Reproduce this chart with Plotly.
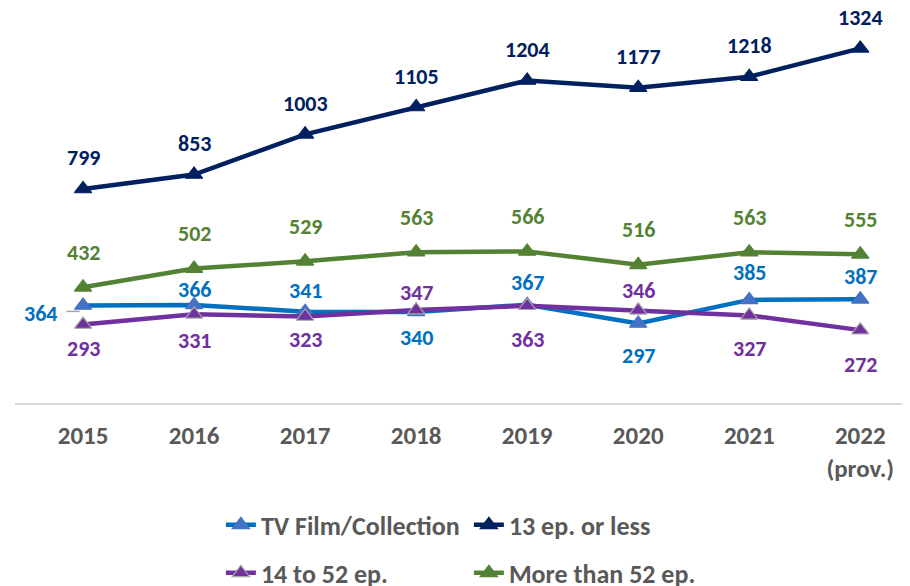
import plotly.graph_objects as go

years = ["2015", "2016", "2017", "2018", "2019", "2020", "2021", "2022"]
tick_text = ["2015", "2016", "2017", "2018", "2019", "2020", "2021", "2022<br>(prov.)"]
tv_film = [364, 366, 341, 340, 367, 297, 385, 387]
ep13 = [799, 853, 1003, 1105, 1204, 1177, 1218, 1324]
ep14_52 = [293, 331, 323, 347, 363, 346, 327, 272]
ep52plus = [432, 502, 529, 563, 566, 516, 563, 555]

FONT = "Carlito, Calibri, Lato, sans-serif"
GREY = "#595959"

series = [
    dict(name="TV Film/Collection", y=tv_film, line="#0070C0", marker="#4472C4", mline="#4472C4", legend="legend",
         yshift=[-8, 15, 21, -26, 22, -32, 27, 23], xshift=[-43, 0, 0, 0, 0, 0, 0, 0]),
    dict(name="13 ep. or less", y=ep13, line="#002060", marker="#002060", mline="#002060", legend="legend",
         yshift=[31] * 8, xshift=[0] * 8),
    dict(name="14 to 52 ep.", y=ep14_52, line="#7030A0", marker="#7030A0", mline="#A5A5A5", legend="legend2",
         yshift=[-24, -26, -23, 18, -34, 20, -33, -34], xshift=[0] * 8),
    dict(name="More than 52 ep.", y=ep52plus, line="#548235", marker="#548235", mline="#548235", legend="legend2",
         yshift=[35] * 8, xshift=[0] * 8),
]

idx = list(range(len(years)))

fig = go.Figure()
annotations = []
for s in series:
    fig.add_trace(go.Scatter(
        x=idx, y=s["y"], name=s["name"], mode="lines+markers", legend=s["legend"],
        line=dict(color=s["line"], width=4.5),
        marker=dict(symbol="triangle-up", size=15, color=s["marker"], line=dict(color=s["mline"], width=1.2)),
        cliponaxis=False,
    ))
    for i, v in enumerate(s["y"]):
        annotations.append(dict(
            x=i, y=v, text=str(v), showarrow=False, xref="x", yref="y",
            yshift=s["yshift"][i], xshift=s["xshift"][i],
            font=dict(family=FONT, size=22, color=s["line"], weight="bold"),
        ))

# leader line for the first TV Film label
fig.add_shape(type="line", xref="x", yref="y", x0=-0.15, x1=-0.03, y0=tv_film[0] - 22, y1=tv_film[0] - 22,
              line=dict(color="#A5A5A5", width=1.5))

legend_font = dict(family=FONT, size=26, color=GREY, weight="bold")

fig.update_layout(
    width=910, height=586,
    margin=dict(l=7, r=0, t=20, b=191, autoexpand=False),
    paper_bgcolor="white", plot_bgcolor="white",
    font=dict(family=FONT, color=GREY),
    annotations=annotations,
    xaxis=dict(
        range=[-0.613, 7.52], tickvals=idx, ticktext=tick_text, automargin=False,
        showgrid=False, showline=True, linecolor="#D9D9D9", linewidth=2, ticks="",
        tickfont=dict(family=FONT, size=25, color=GREY, weight="bold"),
        ticklabelstandoff=9, zeroline=False,
    ),
    yaxis=dict(range=[0, 1400], visible=False, showgrid=False, zeroline=False, automargin=False),
    legend=dict(
        orientation="h", x=0.228, xanchor="left", y=-0.325, yanchor="middle",
        entrywidth=203, entrywidthmode="pixels", itemwidth=30,
        font=legend_font, bgcolor="rgba(0,0,0,0)",
    ),
    legend2=dict(
        orientation="h", x=0.228, xanchor="left", y=-0.453, yanchor="middle",
        entrywidth=203, entrywidthmode="pixels", itemwidth=30,
        font=legend_font, bgcolor="rgba(0,0,0,0)",
    ),
    showlegend=True,
)

fig.write_html("out.html")
